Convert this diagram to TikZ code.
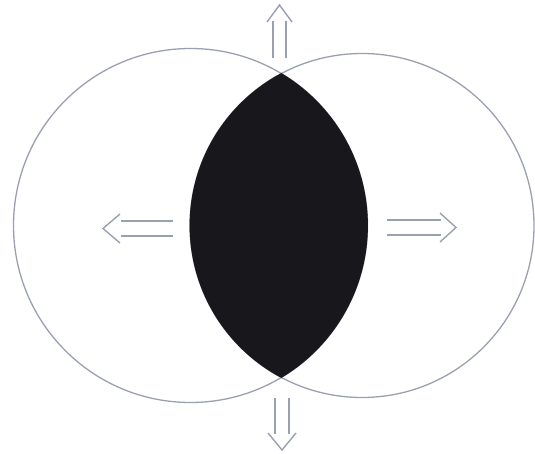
\documentclass[tikz,border=0pt]{standalone}
\begin{document}
\begin{tikzpicture}[x=1pt,y=-1pt,
  ringline/.style={draw=ringgray,line width=1.3pt},
  arrowline/.style={draw=ringgray,line width=1.4pt,line join=miter}]
\definecolor{ringgray}{RGB}{155,160,176}
\definecolor{lensfill}{RGB}{24,24,28}
\useasboundingbox (0,0) rectangle (535,454);
% circles
\coordinate (cl) at (190.5,225.5);
\coordinate (cr) at (362,225.5);
\draw[ringline] (cl) circle[radius=177];
\draw[ringline] (cr) circle[radius=172];
\begin{scope}
  \clip (cl) circle[radius=177.4];
  \fill[lensfill] (cr) circle[radius=172.4];
\end{scope}
% top arrow
\draw[arrowline] (273,58) -- (273,21);
\draw[arrowline] (286,58) -- (286,21);
\draw[arrowline] (267,22) -- (279.5,5) -- (292,22);
% bottom arrow
\draw[arrowline] (275,398) -- (275,434);
\draw[arrowline] (289,398) -- (289,434);
\draw[arrowline] (268,433) -- (282,450) -- (296,433);
% left arrow
\draw[arrowline] (173,221) -- (121,221);
\draw[arrowline] (173,236) -- (121,236);
\draw[arrowline] (120,214) -- (103,228.5) -- (120,243);
% right arrow
\draw[arrowline] (387,220) -- (441,220);
\draw[arrowline] (387,235) -- (441,235);
\draw[arrowline] (440,213) -- (456,227.5) -- (440,242);
\end{tikzpicture}
\end{document}
